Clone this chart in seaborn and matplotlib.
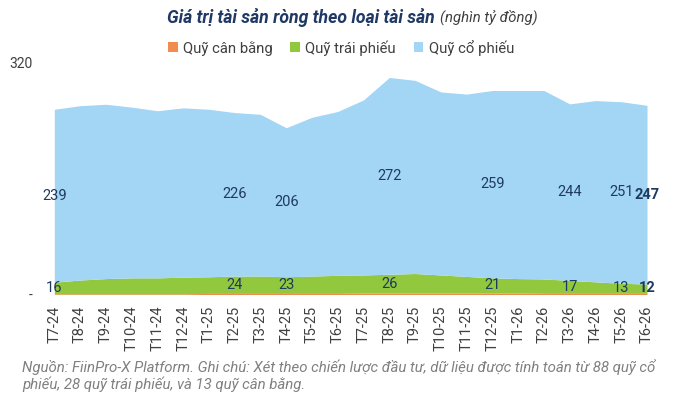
import matplotlib
matplotlib.use("Agg")
import matplotlib.pyplot as plt
from matplotlib.patches import Patch
import seaborn as sns
import pandas as pd

# Data (nghìn tỷ đồng)
months = ["T7-24", "T8-24", "T9-24", "T10-24", "T11-24", "T12-24",
          "T1-25", "T2-25", "T3-25", "T4-25", "T5-25", "T6-25",
          "T7-25", "T8-25", "T9-25", "T10-25", "T11-25", "T12-25",
          "T1-26", "T2-26", "T3-26", "T4-26", "T5-26", "T6-26"]
balanced = [1, 1, 1, 1, 1, 1, 1.5, 1.5, 1.5, 1.5, 1.5, 1.5,
            2, 2, 2, 2, 2, 2, 2, 2.5, 2.5, 2.5, 2.5, 2.5]
bond = [16, 19, 21, 22, 22, 23, 23, 24, 24, 23, 24, 25,
        25, 26, 27, 25, 23, 21, 20, 19, 17, 15, 13, 12]
equity = [239, 241, 241, 236, 231, 234, 231.5, 226, 223.5, 206, 219.5, 226.5,
          242, 272, 267, 253, 252, 259, 260, 260.5, 244, 250.5, 251, 247]
label_idx = [0, 7, 9, 13, 17, 20, 22, 23]

series_names = ["Quỹ cân bằng", "Quỹ trái phiếu", "Quỹ cổ phiếu"]
colors = ["#F28C4E", "#92C83E", "#A3D5F5"]

sns.set_theme(style="white")
plt.rcParams['font.family'] = ['Roboto', 'DejaVu Sans']

df = pd.DataFrame({"month": months, series_names[0]: balanced,
                   series_names[1]: bond, series_names[2]: equity})
x = list(range(len(df)))

fig = plt.figure(figsize=(7, 3.99), dpi=100)
ax = fig.add_axes([54.3 / 700, 104.5 / 399, (647 - 54.3) / 700, 231.5 / 399])

ax.stackplot(x, df[series_names[0]], df[series_names[1]], df[series_names[2]],
             colors=colors, linewidth=0)

ax.set_xlim(0, len(x) - 1)
ax.set_ylim(0, 320)
ax.set_yticks([0, 320])
ax.set_yticklabels(["-", "320"])
ax.set_xticks(x)
ax.set_xticklabels(df["month"], rotation=90)
ax.tick_params(axis="x", length=0, pad=8, labelsize=10.5, colors="#404040")
ax.tick_params(axis="y", length=0, pad=16, labelsize=10, colors="#404040")
for s in ax.spines.values():
    s.set_visible(False)
ax.grid(False)

# Data labels
lab_col = "#1F3A5F"
for i in label_idx:
    last = i == len(x) - 1
    w = "bold" if last else "normal"
    yb = df[series_names[0]][i] + df[series_names[1]][i] / 2
    ye = df[series_names[0]][i] + df[series_names[1]][i] + df[series_names[2]][i] / 2
    ax.text(i, yb, f"{df[series_names[1]][i]:.0f}", ha="center", va="center",
            fontsize=10.5, color=lab_col, fontweight=w)
    ax.text(i, ye, f"{df[series_names[2]][i]:.0f}", ha="center", va="center",
            fontsize=10.5, color=lab_col, fontweight=w)

# Title
fig.text(435 / 700, 1 - 17.3 / 399, "Giá trị tài sản ròng theo loại tài sản",
         ha="right", va="center", fontsize=12.7, fontweight="bold",
         style="italic", color="#1F3864")
fig.text(440 / 700, 1 - 17.3 / 399, "(nghìn tỷ đồng)",
         ha="left", va="center", fontsize=10.7, style="italic", color="#404040")

# Legend
handles = [Patch(facecolor=c, edgecolor="none") for c in colors]
fig.legend(handles, series_names, loc="center", bbox_to_anchor=(341 / 700, 1 - 47.7 / 399),
           ncol=3, frameon=False, fontsize=10.7, handlelength=0.65, handleheight=0.65,
           handletextpad=0.35, columnspacing=1.2, labelcolor="#404040")

# Footnote
fig.text(22 / 700, 1 - 366.7 / 399,
         "Nguồn: FiinPro-X Platform. Ghi chú: Xét theo chiến lược đầu tư, dữ liệu được tính toán từ 88 quỹ cổ",
         ha="left", va="center", fontsize=10.8, style="italic", color="#808080")
fig.text(22 / 700, 1 - 384 / 399,
         "phiếu, 28 quỹ trái phiếu, và 13 quỹ cân bằng.",
         ha="left", va="center", fontsize=10.8, style="italic", color="#808080")

fig.savefig("out.png", dpi=100)
